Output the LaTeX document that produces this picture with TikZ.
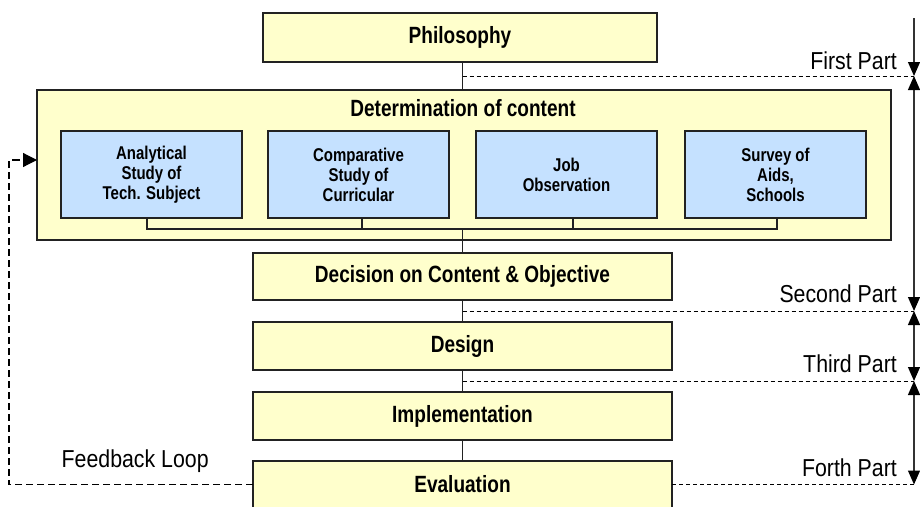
\documentclass[tikz,border=0pt]{standalone}
\usepackage{fontspec}
\setmainfont{Liberation Sans}
\newfontfamily\regf[FakeStretch=0.87]{Liberation Sans}
\newfontfamily\narf[FakeStretch=0.81]{Liberation Sans}
\usetikzlibrary{arrows.meta}
\definecolor{boxyellow}{HTML}{FFFFCC}
\definecolor{boxblue}{HTML}{C5E1FF}
\definecolor{edge}{HTML}{222222}
\definecolor{arrowline}{HTML}{333333}
\tikzset{
  ybox/.style={draw=edge, line width=1.1pt, fill=boxyellow, inner sep=0pt, outer sep=0pt,
    font=\narf\bfseries\fontsize{23.5}{27}\selectfont},
  bbox/.style={draw=edge, line width=1.1pt, fill=boxblue, inner sep=0pt, outer sep=0pt,
    minimum width=181pt, minimum height=87pt, align=center,
    font=\narf\bfseries\fontsize{18.5}{20}\selectfont},
  conn/.style={draw=edge, line width=1.1pt},
  partdash/.style={draw=black, line width=0.8pt, dash pattern=on 4pt off 3pt},
  fbdash/.style={draw=black, line width=1.2pt, dash pattern=on 7pt off 4pt},
  tip/.style={Triangle[length=14pt,width=12pt]},
  partarrow/.style={draw=arrowline, line width=1.2pt, {Triangle[length=14pt,width=12pt,color=black]}-{Triangle[length=14pt,width=12pt,color=black]}},
  plabel/.style={inner sep=0pt, font=\regf\fontsize{24.5}{28}\selectfont},
}
\begin{document}
\begin{tikzpicture}[x=1pt,y=-1pt]
\useasboundingbox (0,0) rectangle (920,506);
\begin{scope}
\clip (0,0) rectangle (920,506);
% main boxes
\node[ybox, minimum width=394pt, minimum height=49pt] (phil) at (460,37.5) {Philosophy};
\node[ybox, minimum width=854pt, minimum height=150pt] (det) at (464,165) {};
\node[inner sep=0pt, font=\narf\bfseries\fontsize{23.5}{27}\selectfont] (dettitle) at (463,108) {Determination of content};
\node[bbox] (a1) at (151.5,174.5) {Analytical\\Study of\\Tech. Subject};
\node[bbox] (a2) at (358.5,174.5) {Comparative\\Study of\\Curricular};
\node[bbox] (a3) at (566.5,174.5) {Job\\Observation};
\node[bbox] (a4) at (775.5,174.5) {Survey of\\Aids,\\Schools};
\node[ybox, minimum width=419pt, minimum height=47pt] (dec) at (462.5,276.5) {Decision on Content \& Objective};
\node[ybox, minimum width=419pt, minimum height=48pt] (des) at (462.5,346) {Design};
\node[ybox, minimum width=419pt, minimum height=48pt] (imp) at (462.5,416) {Implementation};
\node[ybox, minimum width=419pt, minimum height=47pt] (eva) at (462.5,484.5) {Evaluation};

% bracket under the blue boxes
\coordinate (b1) at (147,229);
\coordinate (b2) at (362,229);
\coordinate (b3) at (573,229);
\coordinate (b4) at (777,229);
\coordinate (bc) at (462.5,229);
\draw[conn] (a1.south -| b1) -- (b1) -- (b4) -- (a4.south -| b4);
\draw[conn] (a2.south -| b2) -- (b2);
\draw[conn] (a3.south -| b3) -- (b3);
\draw[conn] (bc) -- (dec.north);

% vertical connectors
\draw[conn] (phil.south -| dec.north) -- (det.north -| dec.north);
\draw[conn] (dec.south) -- (des.north);
\draw[conn] (des.south) -- (imp.north);
\draw[conn] (imp.south) -- (eva.north);

% part markers on the right
\coordinate (r0) at (914,18);
\coordinate (r1) at (914,76);
\coordinate (r2) at (914,311);
\coordinate (r3) at (914,381);
\coordinate (r4) at (914,484.5);
\draw[partdash] (r1 -| dec.north) -- (r1);
\draw[partdash] (r2 -| dec.north) -- (r2);
\draw[partdash] (r3 -| dec.north) -- (r3);
\draw[partdash] (eva.east) -- (r4);
\draw[draw=arrowline, line width=1.2pt, -{Triangle[length=14pt,width=12pt,color=black]}] (r0) -- (r1);
\draw[partarrow] (r1) -- (r2);
\draw[partarrow] (r2) -- (r3);
\draw[partarrow] (r3) -- (r4);

\node[plabel, anchor=base east] (l1) at (897,69.5) {First Part};
\node[plabel, anchor=base east] (l2) at (897,302.5) {Second Part};
\node[plabel, anchor=base east] (l3) at (897,372.5) {Third Part};
\node[plabel, anchor=base east] (l4) at (897,476.5) {Forth Part};

% feedback loop
\coordinate (fb1) at (9,160);
\coordinate (fb2) at (9,484.5);
\draw[fbdash, -{Triangle[length=14pt,width=14pt]}] (eva.west) -- (fb2) -- (fb1) -- (fb1 -| det.west);
\node[plabel, anchor=base west] (fbl) at (61.5,467) {Feedback Loop};
\end{scope}
\end{tikzpicture}
\end{document}
